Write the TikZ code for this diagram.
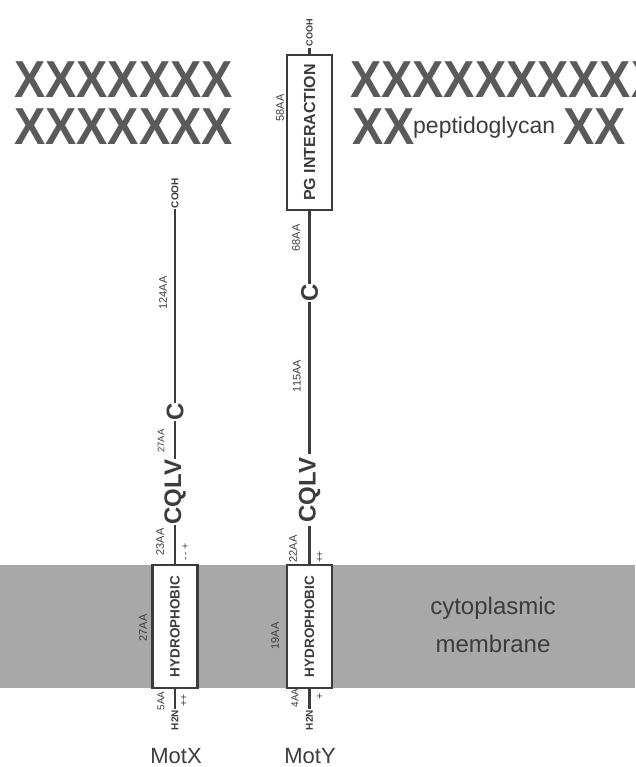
\documentclass[tikz,border=0pt]{standalone}
\usepackage{fontspec}
\setmainfont{Liberation Sans}
\definecolor{ink}{HTML}{3C3C3C}
\definecolor{xgray}{HTML}{5A5A5A}
\definecolor{membr}{HTML}{A8A8A8}
\newcommand{\fsz}[1]{\fontsize{#1}{#1}\selectfont}
\begin{document}
\begin{tikzpicture}[x=1pt,y=-1pt,
  chainline/.style={draw=ink, line width=2.2pt},
  res/.style={inner sep=0.5pt, text=ink, rotate=90, font=\bfseries\fsz{24}},
  aa/.style={text=ink, inner sep=0pt, rotate=90, font=\fsz{11}},
  chg/.style={text=ink, inner sep=0pt, rotate=90, font=\fsz{10.5}},
  term/.style={inner sep=1pt, text=ink, rotate=90, font=\bfseries\fsz{10}},
  domainbox/.style={draw=ink, line width=2.8pt, fill=white, rotate=90,
    minimum height=45pt, inner sep=0pt, text=ink, font=\bfseries\fsz{13.5}},
  wall/.style={text=xgray, inner sep=0pt, anchor=base west, text height=37pt,
    text depth=0pt, font=\bfseries\fsz{52}},
  big/.style={text=ink, inner sep=0pt, anchor=base, font=\fsz{24}},
]
\useasboundingbox (0,0) rectangle (635,767);
\clip (0,0) rectangle (635,767);

% membrane band
\fill[membr] (0,565) rectangle (635,688);
\node[big] (cyto) at (493,614) {cytoplasmic};
\node[big] (memb) at (493,652) {membrane};

% peptidoglycan layer
\node[wall] (wl1) at (14,98) {\scalebox{0.9}[1]{XXXXXXX}};
\node[wall] (wl2) at (14,145) {\scalebox{0.9}[1]{XXXXXXX}};
\node[wall] (wr1) at (350,98) {\scalebox{0.9}[1]{XXXXXXXXXX}};
\node[wall] (wr2) at (352,145) {\scalebox{0.9}[1]{XX}};
\node[wall, font=\fsz{23}, text=ink, text height=17pt, text depth=5pt] (pg) at (413,134) {peptidoglycan};
\node[wall] (wr3) at (563,145) {\scalebox{0.9}[1]{XX}};

% MotX
\node[term] (coohX) at (175,193) {COOH};
\node[res] (cX) at (175,412) {C};
\node[res] (cqlvX) at (175,492) {CQLV};
\node[domainbox, minimum width=123pt] (hydX) at (175,626.5) {HYDROPHOBIC};
\node[term] (h2nX) at (175,720) {H2N};
\draw[chainline] (coohX) -- (cX);
\draw[chainline] (cX) -- (cqlvX);
\draw[chainline] (cqlvX) -- (hydX);
\draw[chainline] (hydX) -- (h2nX);
\node[aa] (lx1) at (163,293) {124AA};
\node[aa, font=\fsz{9.5}] (lx2) at (161,441) {27AA};
\node[aa] (lx3) at (160,542) {23AA};
\node[chg] (qx1) at (185.5,552) {-\hspace{2pt}-\hspace{2pt}+};
\node[aa] (lx4) at (143,628) {27AA};
\node[aa, font=\fsz{10}] (lx5) at (161,701) {5AA};
\node[chg] (qx2) at (184,700) {++};
\node[big, font=\fsz{22}] (motx) at (176,763) {MotX};

% MotY
\node[term, font=\bfseries\fsz{9}] (coohY) at (309.5,33) {COOH};
\node[domainbox, minimum width=155pt, font=\bfseries\fsz{16}] (pgY) at (309.5,132.5) {PG INTERACTION};
\node[res] (cY) at (309.5,293) {C};
\node[res, inner sep=3pt] (cqlvY) at (309.5,490) {CQLV};
\node[domainbox, minimum width=123pt] (hydY) at (309.5,626.5) {HYDROPHOBIC};
\node[term] (h2nY) at (309.5,720) {H2N};
\draw[chainline] (coohY) -- (pgY);
\draw[chainline] (pgY) -- (cY);
\draw[chainline] (cY) -- (cqlvY);
\draw[chainline] (cqlvY) -- (hydY);
\draw[chainline] (hydY) -- (h2nY);
\node[aa] (ly1) at (280,108) {58AA};
\node[aa] (ly2) at (296,238) {68AA};
\node[aa] (ly3) at (297,376) {115AA};
\node[aa] (ly4) at (293,549) {22AA};
\node[chg] (qy1) at (320,557) {+\kern-1.8pt+};
\node[aa] (ly5) at (275,636) {19AA};
\node[aa, font=\fsz{10}] (ly6) at (295,698) {4AA};
\node[chg] (qy2) at (320,696) {+};
\node[big, font=\fsz{22}] (moty) at (310,763) {MotY};
\end{tikzpicture}
\end{document}
